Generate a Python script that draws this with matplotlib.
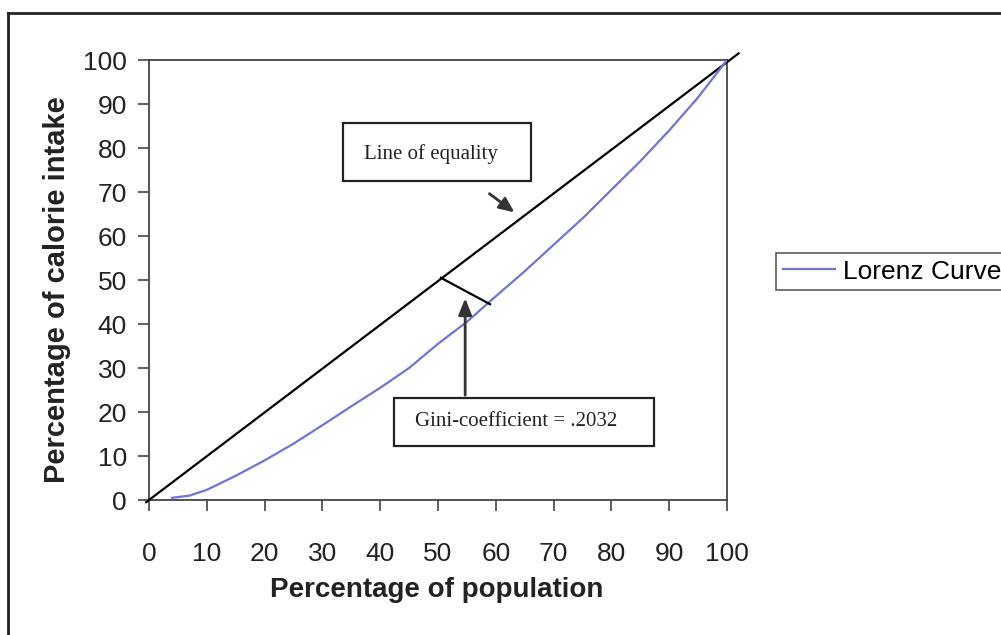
import matplotlib
matplotlib.use("Agg")
import matplotlib.pyplot as plt
from matplotlib.lines import Line2D
from matplotlib.patches import Rectangle

# Data
pop_pct = [4, 7, 10, 15, 20, 25, 30, 35, 40, 45, 50, 55, 60, 65, 70, 75, 80, 85, 90, 95, 100]
calorie_pct = [0.5, 1, 2.3, 5.5, 9, 12.8, 17, 21.3, 25.5, 30, 35.5, 40.5, 46.3, 52, 58, 64, 70.5, 77, 84, 91.5, 100]
equality_x = [-0.5, 102]
equality_y = [-0.5, 101.5]
xticks = [0, 10, 20, 30, 40, 50, 60, 70, 80, 90, 100]
yticks = [0, 10, 20, 30, 40, 50, 60, 70, 80, 90, 100]

W, H = 1001, 635
fig = plt.figure(figsize=(W / 100, H / 100), dpi=100)
fig.patch.set_facecolor("white")
ax = fig.add_axes([149 / W, 1 - 500 / H, (727 - 149) / W, (500 - 60) / H])

sans = "Liberation Sans"
serif = "Liberation Serif"

ax.plot(equality_x, equality_y, color="black", lw=1.6, clip_on=False, zorder=3)
ax.plot(pop_pct, calorie_pct, color="#7074d4", lw=1.6, label="Lorenz Curve", zorder=3)

ax.set_xlim(0, 100)
ax.set_ylim(0, 100)
ax.set_xticks(xticks)
ax.set_yticks(yticks)
ax.set_xticklabels([str(t) for t in xticks], fontfamily=sans, fontsize=19, color="#222222")
ax.set_yticklabels([str(t) for t in yticks], fontfamily=sans, fontsize=19, color="#222222")
ax.tick_params(axis="x", direction="out", length=8, width=1.2, pad=22, color="#444444")
ax.tick_params(axis="y", direction="out", length=8, width=1.2, pad=8, color="#444444")
for s in ax.spines.values():
    s.set_color("#444444")
    s.set_linewidth(1.3)

# Annotation: Line of equality
ax.add_patch(Rectangle((33.6, 72.4), 32.5, 13.3, fill=False, ec="#222222", lw=1.6, clip_on=False, zorder=4))
ax.text(48.8, 78.6, "Line of equality", fontfamily=serif, fontsize=15, ha="center", va="center", color="#222222")
ax.annotate("", xy=(63.6, 65.0), xytext=(58.5, 70.0),
            arrowprops=dict(arrowstyle="-|>,head_length=0.9,head_width=0.4", color="#333333", lw=2))

# Gini annotation
ax.add_patch(Rectangle((42.4, 12.3), 45.0, 10.9, fill=False, ec="#222222", lw=1.6, clip_on=False, zorder=4))
ax.text(46.0, 17.8, "Gini-coefficient = .2032", fontfamily=serif, fontsize=15, ha="left", va="center", color="#222222")
ax.annotate("", xy=(54.7, 46.5), xytext=(54.7, 23.2),
            arrowprops=dict(arrowstyle="-|>,head_length=1.0,head_width=0.4", color="#333333", lw=2))
ax.plot([50.5, 59.0], [50.5, 44.5], color="black", lw=1.6, zorder=4)

# Axis labels
fig.text(437 / W, 1 - 590 / H, "Percentage of population", fontfamily=sans, fontsize=20,
         fontweight="bold", ha="center", va="center", color="#222222")
fig.text(57 / W, 1 - 290 / H, "Percentage of calorie intake", fontfamily=sans, fontsize=21,
         fontweight="bold", ha="center", va="center", rotation=90, color="#222222")

# Legend
leg = fig.legend(loc="upper left", bbox_to_anchor=(776 / W, 1 - 253 / H), prop={"family": sans, "size": 19},
                 frameon=True, fancybox=False, edgecolor="#333333", handlelength=2.0, handletextpad=0.3,
                 borderpad=0.25, borderaxespad=0)
leg.get_frame().set_linewidth(1.2)

# Outer chart border (extends beyond image at right and bottom)
fig.add_artist(Line2D([8 / W, 8 / W], [1 - 13 / H, 0], transform=fig.transFigure, color="#222222", lw=2))
fig.add_artist(Line2D([8 / W, 1], [1 - 13 / H, 1 - 13 / H], transform=fig.transFigure, color="#222222", lw=2))

fig.savefig("out.png", dpi=100, facecolor="white")
